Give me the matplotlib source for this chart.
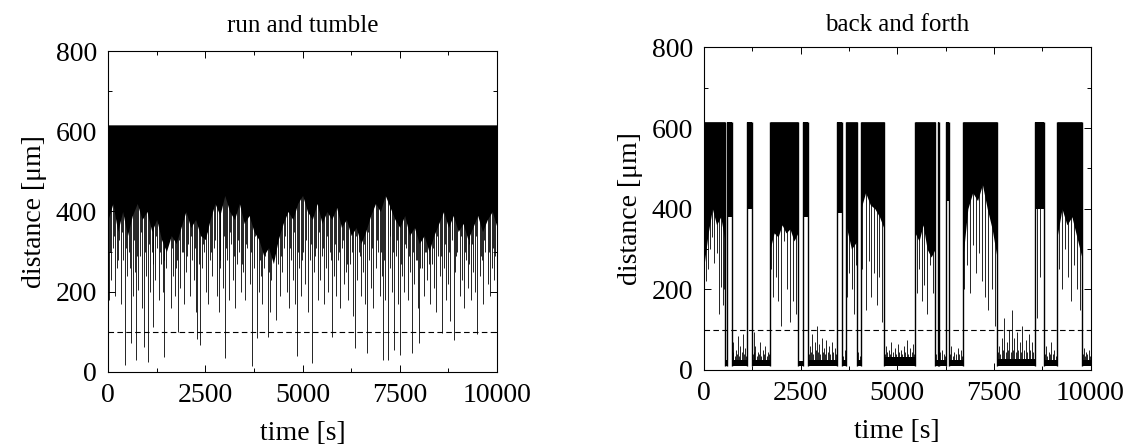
import numpy as np
import matplotlib.pyplot as plt
from matplotlib.ticker import MultipleLocator

plt.rcParams['font.family'] = ['Liberation Serif', 'DejaVu Serif']

# ---- run and tumble -------------------------------------------------
# lower edge of the dense black band, sampled every 125 s
rt_floor = [380, 420, 350, 400, 340, 390, 420, 380, 400, 350,
            380, 330, 300, 340, 320, 360, 400, 360, 380, 340,
            330, 380, 420, 390, 440, 400, 380, 420, 370, 390,
            350, 330, 290, 310, 270, 330, 370, 400, 380, 420,
            440, 400, 380, 420, 370, 400, 380, 410, 360, 380,
            340, 360, 320, 350, 390, 420, 400, 440, 410, 380,
            360, 390, 340, 360, 320, 340, 300, 340, 370, 400,
            360, 390, 350, 370, 330, 360, 390, 350, 380, 400, 360]

# deep excursions below the band (time, minimum distance)
rt_spike_t = [
    20, 70, 130, 175, 230, 290, 340, 390, 437, 480,
    530, 591, 640, 690, 720, 770, 820, 870, 934, 975,
    1020, 1070, 1120, 1160, 1210, 1260, 1310, 1360, 1405, 1448,
    1500, 1550, 1620, 1670, 1720, 1760, 1800, 1850, 1900, 1950,
    2010, 2060, 2110, 2160, 2210, 2250, 2296, 2370, 2420, 2470,
    2520, 2570, 2630, 2680, 2730, 2790, 2840, 2890, 2950, 3008,
    3060, 3110, 3160, 3210, 3270, 3320, 3370, 3420, 3480, 3530,
    3580, 3640, 3710, 3760, 3820, 3870, 3920, 3970, 4030, 4100,
    4150, 4200, 4260, 4310, 4370, 4420, 4480, 4530, 4590, 4640,
    4700, 4750, 4800, 4850, 4910, 4960, 5020, 5070, 5130, 5180,
    5236, 5290, 5340, 5390, 5450, 5500, 5550, 5600, 5650, 5700,
    5750, 5800, 5860, 5910, 5960, 6020, 6070, 6120, 6180, 6230,
    6290, 6350, 6400, 6450, 6510, 6560, 6610, 6666, 6720, 6770,
    6820, 6880, 6930, 6980, 7030, 7078, 7130, 7206, 7260, 7300,
    7352, 7410, 7460, 7506, 7560, 7610, 7660, 7710, 7770, 7823,
    7870, 7920, 7960, 8003, 8060, 8110, 8160, 8210, 8270, 8320,
    8370, 8430, 8480, 8530, 8580, 8640, 8690, 8740, 8800, 8880,
    8930, 8980, 9040, 9090, 9140, 9190, 9240, 9290, 9340, 9390,
    9440, 9494, 9550, 9600, 9650, 9700, 9760, 9810, 9860, 9910]
rt_spike_v = [
    180, 230, 310, 190, 260, 330, 170, 280, 17, 240,
    300, 72, 190, 250, 30, 205, 290, 160, 63, 240,
    26, 200, 300, 113, 230, 310, 180, 270, 200, 38,
    260, 320, 160, 240, 190, 280, 100, 210, 300, 170,
    250, 320, 190, 280, 230, 150, 83, 67, 260, 300,
    200, 170, 280, 240, 310, 190, 150, 260, 210, 35,
    280, 180, 320, 230, 160, 270, 300, 200, 250, 180,
    310, 220, 15, 260, 85, 200, 240, 170, 290, 88,
    150, 230, 300, 130, 270, 190, 250, 310, 200, 160,
    280, 230, 170, 40, 260, 190, 300, 220, 150, 280,
    22, 250, 310, 180, 230, 290, 170, 260, 200, 300,
    88, 240, 190, 280, 160, 310, 220, 250, 180, 270,
    140, 60, 230, 300, 190, 250, 170, 48, 280, 210,
    160, 260, 300, 190, 240, 30, 180, 30, 260, 200,
    56, 290, 170, 43, 240, 200, 310, 180, 250, 48,
    220, 280, 160, 72, 260, 190, 300, 230, 170, 270,
    210, 150, 290, 240, 97, 260, 180, 220, 128, 80,
    250, 300, 190, 230, 160, 280, 210, 320, 180, 250,
    200, 95, 240, 280, 170, 300, 220, 190, 260, 230]

# shallow excursions just below the band
rt_short_t = [
    45, 150, 255, 365, 460, 560, 665, 745, 850, 955,
    1045, 1145, 1235, 1335, 1430, 1525, 1645, 1745, 1825, 1925,
    2035, 2135, 2230, 2335, 2445, 2545, 2655, 2760, 2865, 2975,
    3035, 3135, 3240, 3345, 3450, 3555, 3680, 3790, 3895, 4000,
    4125, 4230, 4340, 4445, 4555, 4670, 4775, 4880, 4985, 5100,
    5210, 5315, 5420, 5525, 5625, 5725, 5830, 5935, 6045, 6150,
    6260, 6375, 6480, 6585, 6690, 6795, 6905, 7005, 7100, 7235,
    7330, 7435, 7530, 7635, 7740, 7845, 7940, 8030, 8135, 8240,
    8345, 8455, 8555, 8665, 8770, 8840, 8955, 9065, 9165, 9265,
    9365, 9470, 9575, 9675, 9785, 9885, 9945]
rt_short_v = [
    300, 340, 280, 350, 310, 260, 330, 290, 350, 300,
    320, 270, 340, 300, 280, 350, 310, 260, 330, 300,
    290, 340, 310, 270, 320, 350, 300, 330, 280, 340,
    310, 350, 290, 330, 270, 320, 300, 340, 280, 260,
    250, 300, 330, 290, 340, 310, 350, 300, 280, 330,
    320, 290, 350, 310, 340, 280, 320, 300, 330, 270,
    300, 340, 290, 320, 350, 310, 330, 300, 280, 340,
    300, 330, 270, 320, 290, 300, 280, 260, 300, 270,
    310, 340, 290, 320, 300, 330, 290, 340, 300, 270,
    320, 340, 290, 330, 300, 310, 290]

# ---- back and forth -------------------------------------------------
# switching times; segments alternate: run (far) / rest (near wall)
bf_edges = [0, 540, 600, 720, 1110, 1240, 1710, 2430, 2560, 2690, 3440,
            3570, 3670, 3960, 4060, 4660, 5460, 5980, 6050, 6080, 6260,
            6340, 6700, 7580, 8560, 8790, 9135, 9774, 10000]
bf_run_floor = [
    [260, 340, 400, 360, 380, 320],
    [380, 380],
    [400, 400],
    [300, 340, 330, 360, 340, 350, 320, 340],
    [380, 380],
    [390, 390],
    [360, 300, 320],
    [400, 440, 410, 400, 380, 350],
    [340, 320, 360, 300, 280, 300],
    [420, 420],
    [420, 420],
    [280, 400, 440, 420, 460, 400, 350, 280],
    [400, 400],
    [330, 400, 360, 380, 330, 280],
]
bf_rest_top = [24, 26, 24, 22, 26, 24, 24, 32, 24, 24, 26, 28, 24, 26]

bf_spike_t = [40, 90, 150, 200, 260, 330, 390, 430, 480, 520,
              1730, 1790, 1850, 1920, 2000, 2080, 2150, 2230, 2300, 2380,
              3700, 3760, 3820, 3880, 3930,
              4100, 4180, 4260, 4330, 4400, 4470, 4540, 4610,
              5500, 5560, 5630, 5700, 5780, 5850, 5920,
              6730, 6800, 6870, 6950, 7030, 7110, 7200, 7280, 7360, 7440, 7520,
              8620, 8700,
              9180, 9260, 9340, 9420, 9500, 9580, 9650, 9720]
bf_spike_v = [220, 250, 300, 330, 265, 290, 140, 205, 160, 200,
              250, 180, 230, 170, 110, 320, 200, 120, 170, 140,
              180, 240, 200, 140, 260,
              250, 150, 270, 180, 240, 160, 230, 120,
              190, 250, 170, 210, 140, 260, 190,
              200, 260, 190, 310, 240, 290, 220, 180, 150, 200, 110,
              130, 230,
              250, 200, 300, 230, 170, 260, 200, 150]

# fluctuations while resting near the wall
bf_noise_t = [740, 760, 790, 820, 850, 880, 910, 940, 970, 1000, 1030, 1060, 1090,
              1260, 1280, 1305, 1330, 1360, 1390, 1420, 1450, 1485, 1520, 1555,
              1590, 1625, 1660, 1690,
              2710, 2740, 2770, 2800, 2830, 2860, 2890, 2920, 2950, 2980, 3010,
              3040, 3070, 3100, 3130, 3160, 3195, 3230, 3265, 3300, 3340, 3380, 3415,
              3600, 3640, 3990, 4030,
              4680, 4700, 4740, 4780, 4815, 4850, 4890, 4930, 4970, 5010, 5050,
              5090, 5130, 5170, 5210, 5250, 5290, 5330, 5370, 5410, 5440,
              6010, 6110, 6150, 6200, 6240,
              6370, 6400, 6440, 6480, 6520, 6560, 6600, 6640, 6680,
              7610, 7640, 7670, 7700, 7735, 7770, 7805, 7840, 7870, 7900, 7930,
              7960, 7995, 8030, 8065, 8100, 8135, 8170, 8205, 8240, 8280, 8320,
              8360, 8400, 8440, 8480, 8520,
              8820, 8850, 8885, 8920, 8955, 8990, 9025, 9060, 9100,
              9800, 9820, 9855, 9890, 9920, 9950, 9980]
bf_noise_v = [45, 70, 35, 50, 40, 85, 35, 60, 45, 90, 40, 55, 35,
              40, 95, 45, 60, 35, 45, 40, 70, 35, 50, 40,
              60, 35, 45, 40,
              40, 60, 45, 90, 40, 70, 50, 110, 45, 65, 40,
              80, 45, 55, 40, 75, 45, 60, 40, 70, 45, 55, 40,
              35, 50, 45, 35,
              40, 60, 45, 50, 40, 70, 45, 55, 40, 65, 45,
              50, 40, 60, 45, 75, 40, 55, 45, 65, 40,
              40, 45, 50, 40, 35,
              40, 60, 35, 45, 40, 55, 40, 50, 35,
              45, 60, 40, 80, 50, 130, 45, 70, 50, 100, 45,
              150, 50, 80, 45, 95, 50, 70, 45, 110, 50, 75,
              45, 90, 50, 70, 45,
              40, 60, 35, 45, 40, 70, 40, 50, 35,
              40, 55, 35, 45, 40, 50, 35]

TOP = 616
FS = 20


def style_axes(ax, title, tpad):
    ax.set_xlim(0, 10000)
    ax.set_ylim(0, 800)
    ax.xaxis.set_major_locator(MultipleLocator(2500))
    ax.xaxis.set_minor_locator(MultipleLocator(1250))
    ax.yaxis.set_major_locator(MultipleLocator(200))
    ax.yaxis.set_minor_locator(MultipleLocator(100))
    ax.tick_params(which='both', direction='in', top=True, right=True,
                   labelsize=FS, width=0.7)
    ax.tick_params(which='major', length=5, pad=8)
    ax.tick_params(which='minor', length=3)
    for s in ax.spines.values():
        s.set_linewidth(0.8)
        s.set_zorder(5)
    ax.axhline(100, color='k', lw=0.8, ls=(0, (5, 3)), zorder=4)
    ax.set_xlabel('time [s]', fontsize=FS, labelpad=9)
    ax.set_ylabel('distance [\u03bcm]', fontsize=FS, labelpad=6)
    ax.set_title(title, fontsize=18, pad=tpad)


fig = plt.figure(figsize=(11.29, 4.47), dpi=100)
ax1 = fig.add_axes([0.0957, 0.1678, 0.3446, 0.7181])
ax2 = fig.add_axes([0.6236, 0.1723, 0.3423, 0.7215])

# left: run and tumble
t_floor = np.linspace(0, 10000, len(rt_floor))
ax1.vlines(rt_spike_t, rt_spike_v, 600, color='k', lw=0.6, zorder=1)
ax1.vlines(rt_short_t, rt_short_v, 600, color='k', lw=0.6, zorder=1)
ax1.fill_between(t_floor, rt_floor, TOP, color='k', lw=0, zorder=2)
style_axes(ax1, 'run and tumble', 14)

# right: back and forth
ax2.vlines(bf_spike_t, bf_spike_v, 600, color='k', lw=0.6, zorder=1)
ax2.vlines(bf_noise_t, 12, bf_noise_v, color='k', lw=0.6, zorder=1)
for i, (a, b) in enumerate(zip(bf_edges[:-1], bf_edges[1:])):
    if i % 2 == 0:
        fl = bf_run_floor[i // 2]
        ax2.fill_between(np.linspace(a, b, len(fl)), fl, TOP,
                         color='k', lw=0, zorder=2)
    else:
        ax2.fill_between([a, b], 10, bf_rest_top[i // 2],
                         color='k', lw=0, zorder=2)
ax2.vlines(bf_edges[1:-1], 10, TOP, color='k', lw=1.0, zorder=2)
style_axes(ax2, 'back and forth', 12)

fig.savefig('out.png', dpi=100)
